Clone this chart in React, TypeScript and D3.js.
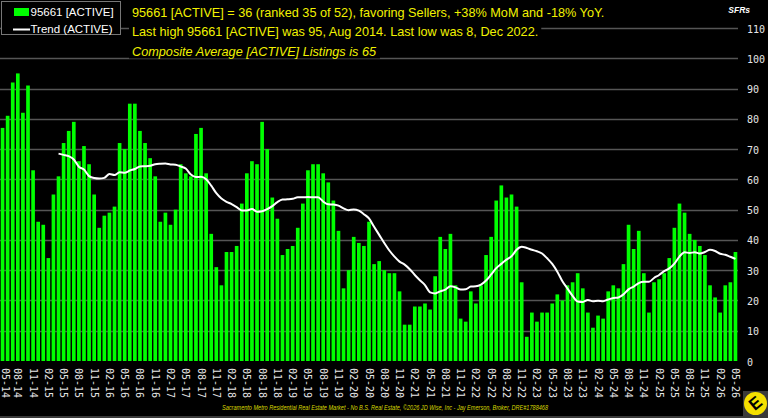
import React, { useEffect, useRef } from "react";
import * as d3 from "d3";

const WIDTH = 768;
const HEIGHT = 418;

// Monthly categories, May 2014 through May 2026
const months = [
  "05-14", "06-14", "07-14", "08-14", "09-14", "10-14", "11-14", "12-14",
  "01-15", "02-15", "03-15", "04-15", "05-15", "06-15", "07-15", "08-15", "09-15", "10-15", "11-15", "12-15",
  "01-16", "02-16", "03-16", "04-16", "05-16", "06-16", "07-16", "08-16", "09-16", "10-16", "11-16", "12-16",
  "01-17", "02-17", "03-17", "04-17", "05-17", "06-17", "07-17", "08-17", "09-17", "10-17", "11-17", "12-17",
  "01-18", "02-18", "03-18", "04-18", "05-18", "06-18", "07-18", "08-18", "09-18", "10-18", "11-18", "12-18",
  "01-19", "02-19", "03-19", "04-19", "05-19", "06-19", "07-19", "08-19", "09-19", "10-19", "11-19", "12-19",
  "01-20", "02-20", "03-20", "04-20", "05-20", "06-20", "07-20", "08-20", "09-20", "10-20", "11-20", "12-20",
  "01-21", "02-21", "03-21", "04-21", "05-21", "06-21", "07-21", "08-21", "09-21", "10-21", "11-21", "12-21",
  "01-22", "02-22", "03-22", "04-22", "05-22", "06-22", "07-22", "08-22", "09-22", "10-22", "11-22", "12-22",
  "01-23", "02-23", "03-23", "04-23", "05-23", "06-23", "07-23", "08-23", "09-23", "10-23", "11-23", "12-23",
  "01-24", "02-24", "03-24", "04-24", "05-24", "06-24", "07-24", "08-24", "09-24", "10-24", "11-24", "12-24",
  "01-25", "02-25", "03-25", "04-25", "05-25", "06-25", "07-25", "08-25", "09-25", "10-25", "11-25", "12-25",
  "01-26", "02-26", "03-26", "04-26", "05-26",
];

// Active single-family listings per month
const activeListings = [
  77, 81, 92, 95, 82, 91, 63, 46,
  45, 34, 55, 61, 72, 76, 79, 66, 71, 65, 55, 44,
  48, 49, 51, 72, 70, 85, 85, 76, 72, 67, 61, 46,
  49, 45, 50, 65, 62, 61, 75, 77, 62, 42, 31, 25,
  36, 36, 38, 52, 62, 66, 65, 79, 70, 54, 47, 35,
  37, 38, 44, 52, 63, 65, 65, 62, 59, 53, 43, 24,
  30, 41, 39, 38, 46, 32, 33, 30, 29, 29, 23, 12,
  12, 18, 18, 19, 17, 28, 41, 37, 42, 25, 14, 13,
  23, 19, 25, 35, 41, 53, 58, 54, 55, 51, 26, 8,
  16, 13, 16, 16, 19, 22, 20, 25, 26, 29, 24, 16,
  11, 15, 14, 23, 25, 24, 32, 45, 37, 43, 29, 16,
  26, 27, 29, 34, 44, 52, 49, 42, 40, 38, 35, 25,
  21, 16, 25, 26, 36,
];

// Trailing twelve-month trend of active listings (starts once a full year is available)
const activeTrend: (number | null)[] = [
  null, null, null, null, null, null, null, null,
  null, null, null, 68.5, 68.08, 67.67, 66.58, 64.17, 63.25, 61.08, 60.42, 60.25,
  60.5, 61.75, 61.42, 62.33, 62.17, 62.92, 63.42, 64.25, 64.33, 64.5, 65.0, 65.17,
  65.25, 64.92, 64.83, 64.25, 63.58, 61.58, 60.75, 60.83, 60.0, 57.92, 55.42, 53.67,
  52.58, 51.83, 50.83, 49.75, 49.75, 50.17, 49.33, 49.5, 50.17, 51.17, 52.5, 53.33,
  53.42, 53.58, 54.08, 54.08, 54.17, 54.08, 54.08, 52.67, 51.75, 51.67, 51.33, 50.42,
  49.83, 50.08, 49.67, 48.5, 47.08, 44.33, 41.67, 39.0, 36.5, 34.5, 32.83, 31.83,
  30.33, 28.42, 26.67, 25.08, 22.67, 22.33, 23.0, 23.58, 24.67, 24.33, 23.58, 23.67,
  24.58, 24.67, 25.25, 26.58, 28.58, 30.67, 32.08, 33.5, 34.58, 36.75, 37.75, 37.33,
  36.75, 36.25, 35.5, 33.92, 32.08, 29.5, 26.33, 23.92, 21.5, 19.67, 19.5, 20.17,
  19.75, 19.92, 19.75, 20.33, 20.83, 21.0, 22.0, 23.67, 24.58, 25.75, 26.17, 26.17,
  27.42, 28.42, 29.67, 30.58, 32.17, 34.5, 35.92, 35.67, 35.92, 35.5, 36.0, 36.75,
  36.33, 35.42, 35.08, 34.42, 33.75,
];

const yTicks = [0, 10, 20, 30, 40, 50, 60, 70, 80, 90, 100, 110];

const headlineLines = [
  "95661 [ACTIVE] = 36 (ranked 35 of 52), favoring Sellers, +38% MoM and -18% YoY.",
  "Last high 95661 [ACTIVE] was 95, Aug 2014. Last low was 8, Dec 2022.",
  "Composite Average [ACTIVE] Listings is 65",
];

const legendItems = ["95661 [ACTIVE]", "Trend (ACTIVE)"];

const footerText =
  "Sacramento Metro Residential Real Estate Market - No B.S. Real Estate, ©2026 JD Wise, Inc - Jay Emerson, Broker, DRE#1788468";

const SANS = "'Liberation Sans', Arial, sans-serif";
const MONO = "'DejaVu Sans Mono', monospace";

export default function App() {
  const ref = useRef<SVGSVGElement | null>(null);

  useEffect(() => {
    const svg = d3.select(ref.current);
    svg.selectAll("*").remove();

    const plot = { left: 0, right: 738, top: 28, bottom: 361 };

    const x = d3
      .scaleBand<string>()
      .domain(months)
      .range([plot.left, plot.right])
      .paddingInner(0.28)
      .paddingOuter(0.14);
    const y = d3.scaleLinear().domain([0, 110]).range([plot.bottom, plot.top]);
    const bw = x.bandwidth();

    svg.append("rect").attr("width", WIDTH).attr("height", HEIGHT).attr("fill", "#000");

    // horizontal grid
    svg
      .append("g")
      .selectAll("line")
      .data(yTicks.filter((t) => t > 0))
      .join("line")
      .attr("x1", plot.left)
      .attr("x2", plot.right)
      .attr("y1", (d) => Math.round(y(d)) + 0.5)
      .attr("y2", (d) => Math.round(y(d)) + 0.5)
      .attr("stroke", "#555")
      .attr("stroke-width", 1.3);

    // y tick labels on the right
    svg
      .append("g")
      .selectAll("text")
      .data(yTicks)
      .join("text")
      .attr("x", 747)
      .attr("y", (d) => y(d) + 1)
      .attr("dominant-baseline", "central")
      .attr("font-family", MONO)
      .attr("font-size", 10)
      .attr("fill", "#e6e6e6")
      .text((d) => d);

    svg
      .append("text")
      .attr("x", 750)
      .attr("y", 13)
      .attr("text-anchor", "end")
      .attr("font-family", SANS)
      .attr("font-size", 8.5)
      .attr("font-weight", "bold")
      .attr("font-style", "italic")
      .attr("fill", "#fff")
      .text("SFRs");

    // bars
    svg
      .append("g")
      .selectAll("rect")
      .data(activeListings)
      .join("rect")
      .attr("x", (_, i) => x(months[i])!)
      .attr("width", bw)
      .attr("y", (d) => y(d))
      .attr("height", (d) => y(0) - y(d))
      .attr("fill", "#00ff00");

    // trend line
    const line = d3
      .line<number | null>()
      .defined((d) => d !== null)
      .x((_, i) => x(months[i])! + bw / 2)
      .y((d) => y(d as number))
      .curve(d3.curveMonotoneX);
    svg
      .append("path")
      .attr("d", line(activeTrend))
      .attr("fill", "none")
      .attr("stroke", "#fff")
      .attr("stroke-width", 2);

    // x tick labels, one every quarter, rotated (kept inside the left edge)
    svg
      .append("g")
      .selectAll("text")
      .data(months.filter((_, i) => i % 3 === 0))
      .join("text")
      .attr("transform", (d) => `translate(${Math.max(x(d)! + bw / 2, 5)},368) rotate(90)`)
      .attr("dominant-baseline", "central")
      .attr("font-family", MONO)
      .attr("font-size", 10)
      .attr("fill", "#e6e6e6")
      .text((d) => d);

    // headline text with black backing so the grid stays behind it
    const head = svg.append("g");
    const headY = [16.5, 36, 55.5];
    headlineLines.forEach((t, i) => {
      const bg = head.append("rect").attr("fill", "#000");
      const txt = head
        .append("text")
        .attr("x", 132)
        .attr("y", headY[i])
        .attr("font-family", SANS)
        .attr("font-size", 12.7)
        .attr("font-style", i === 2 ? "italic" : "normal")
        .attr("fill", "#f2f200")
        .text(t);
      const b = (txt.node() as SVGTextElement).getBBox();
      bg.attr("x", b.x - 3).attr("y", b.y).attr("width", b.width + 6).attr("height", b.height);
    });

    // legend
    const lg = svg.append("g");
    lg.append("rect")
      .attr("x", 1.5)
      .attr("y", 1.5)
      .attr("width", 119)
      .attr("height", 33)
      .attr("fill", "#000")
      .attr("stroke", "#777")
      .attr("stroke-width", 1);
    lg.append("rect").attr("x", 14).attr("y", 8).attr("width", 15).attr("height", 8).attr("fill", "#00ff00");
    lg.append("line")
      .attr("x1", 13)
      .attr("x2", 30)
      .attr("y1", 29.5)
      .attr("y2", 29.5)
      .attr("stroke", "#fff")
      .attr("stroke-width", 2);
    legendItems.forEach((t, i) => {
      lg.append("text")
        .attr("x", 30.5)
        .attr("y", 15.8 + i * 17)
        .attr("font-family", SANS)
        .attr("font-size", 11.5)
        .attr("fill", "#fff")
        .text(t);
    });

    // footer credit
    svg
      .append("text")
      .attr("x", 222)
      .attr("y", 409.5)
      .attr("font-family", SANS)
      .attr("font-size", 7)
      .attr("font-style", "italic")
      .attr("fill", "#d8d800")
      .attr("textLength", 326)
      .attr("lengthAdjust", "spacingAndGlyphs")
      .text(footerText);

    // bottom frame band and logo badge
    svg.append("rect").attr("x", 0).attr("y", 416).attr("width", WIDTH).attr("height", 2).attr("fill", "#3a3a3a");
    svg.append("rect").attr("x", 743).attr("y", 391).attr("width", 25).attr("height", 27).attr("fill", "#3a3a3a");
    svg.append("circle").attr("cx", 755.5).attr("cy", 403.5).attr("r", 11.5).attr("fill", "#f5e000");
    svg
      .append("text")
      .attr("transform", "translate(755.5,403.5) rotate(-40)")
      .attr("text-anchor", "middle")
      .attr("dominant-baseline", "central")
      .attr("font-family", SANS)
      .attr("font-weight", "bold")
      .attr("font-size", 17)
      .attr("fill", "#000")
      .text("E");
  }, []);

  return (
    <svg
      ref={ref}
      width={WIDTH}
      height={HEIGHT}
      style={{ position: "absolute", left: 0, top: 0, display: "block" }}
    />
  );
}
